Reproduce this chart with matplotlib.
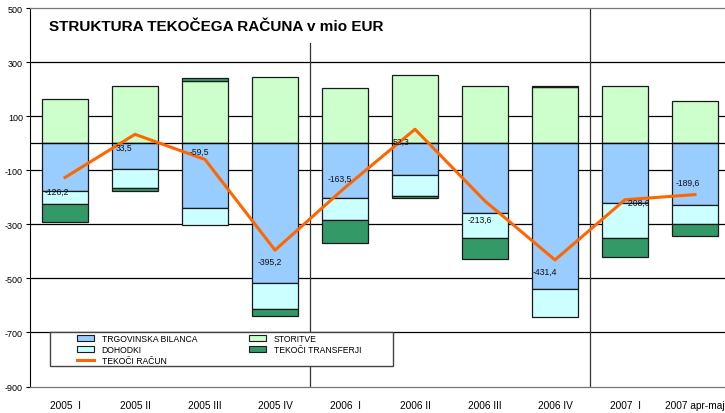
import numpy as np
import matplotlib
matplotlib.use("Agg")
from matplotlib import pyplot as plt
from matplotlib.patches import Patch, Rectangle
from matplotlib.lines import Line2D

plt.rcParams["font.family"] = ["Liberation Sans", "DejaVu Sans"]
plt.rcParams["axes.unicode_minus"] = False

categories = ["2005  I", "2005 II", "2005 III", "2005 IV", "2006  I",
              "2006 II", "2006 III", "2006 IV", "2007  I", "2007 apr-maj"]
trade = [-175, -95, -240, -518, -204, -116, -258, -540, -221, -227]
services = [164, 211, 232, 244, 205, 253, 213, 210, 212, 155]
income = [-50, -71, -62, -96, -79, -80, -92, -104, -128, -72]
transfers = [-65.2, -11.5, 10.5, -25.2, -85.5, -4.7, -76.6, 2.6, -71.6, -45.6]
current = [-126.2, 33.5, -59.5, -395.2, -163.5, 52.3, -213.6, -431.4, -208.6, -189.6]

# label offsets in points (dx, dy) relative to the line points
label_offsets = [(-6, -10), (-8, -9), (-4, 6), (-4, -8), (-4, 7),
                 (-10, -9), (-4, -13), (-7, -8), (9, -2), (-5, 9)]

c_trade = "#99CCFF"
c_income = "#CCFFFF"
c_services = "#CCFFCC"
c_transfers = "#339966"
c_line = "#FF6600"

x = np.arange(len(categories))
trade = np.array(trade, dtype=float)
services = np.array(services, dtype=float)
income = np.array(income, dtype=float)
transfers = np.array(transfers, dtype=float)

fig = plt.figure(figsize=(7.25, 4.14), dpi=100)
ax = fig.add_axes([30 / 725, 26.5 / 414, 700 / 725, (387.5 - 9.3) / 414])


def ax_xy(px, py):
    # pixel position in the picture -> axes fraction
    return (px - 30) / 700, 1 - (py - 9.3) / 378


w = 0.667
ec = "#1a1a1a"
lw = 0.9
ax.bar(x, services, w, color=c_services, edgecolor=ec, linewidth=lw, zorder=3)
ax.bar(x, trade, w, color=c_trade, edgecolor=ec, linewidth=lw, zorder=3)
ax.bar(x, income, w, bottom=trade, color=c_income, edgecolor=ec, linewidth=lw, zorder=3)
tr_bottom = np.where(transfers < 0, trade + income, services)
ax.bar(x, transfers, w, bottom=tr_bottom, color=c_transfers, edgecolor=ec,
       linewidth=lw, zorder=3)

ax.plot(x, current, color=c_line, linewidth=2.2, zorder=5)
for xi, v, (dx, dy) in zip(x, current, label_offsets):
    ax.annotate(f"{v:.1f}".replace(".", ","), (xi, v), xytext=(dx, dy),
                textcoords="offset points", ha="center", va="center",
                fontsize=6.2, color="#111111", zorder=6)

ax.set_xlim(-0.5, len(categories) - 0.5)
ax.set_ylim(-900, 500)
ax.set_yticks(np.arange(-900, 501, 200))
ax.set_xticks(x)
ax.set_xticklabels(categories, fontsize=7.3)
ax.tick_params(axis="y", labelsize=6.5, length=3, width=0.8, pad=2)
ax.tick_params(axis="x", length=0, pad=10)

for yv in np.arange(-700, 500, 200):
    ax.axhline(yv, color="black", linewidth=0.9, zorder=1)
ax.axhline(0, color="black", linewidth=0.9, zorder=4)
for xv in (3.5, 7.5):
    ax.axvline(xv, color="#333333", linewidth=0.9, zorder=2)

for s in ("top", "bottom", "right"):
    ax.spines[s].set_color("#777777")
    ax.spines[s].set_linewidth(0.9)
ax.spines["left"].set_color("black")
for s in ax.spines.values():
    s.set_zorder(10)

ax.text(*ax_xy(49, 27), "STRUKTURA TEKOČEGA RAČUNA v mio EUR",
        transform=ax.transAxes, fontsize=11, fontweight="bold", va="center",
        ha="left", zorder=7,
        bbox=dict(facecolor="white", edgecolor="none", pad=7))

# legend frame
x0, y1 = ax_xy(50, 333.3)
x1, y0 = ax_xy(393.3, 366.7)
ax.add_patch(Rectangle((x0, y0), x1 - x0, y1 - y0, transform=ax.transAxes,
                       facecolor="white", edgecolor="#444444", linewidth=1.0,
                       zorder=7.5, clip_on=False))

handles = [
    Patch(facecolor=c_trade, edgecolor=ec, linewidth=0.8),
    Patch(facecolor=c_income, edgecolor=ec, linewidth=0.8),
    Line2D([], [], color=c_line, linewidth=2.2),
    Patch(facecolor=c_services, edgecolor=ec, linewidth=0.8),
    Patch(facecolor=c_transfers, edgecolor=ec, linewidth=0.8),
]
labels = ["TRGOVINSKA BILANCA", "DOHODKI", "TEKOČI RAČUN", "STORITVE",
          "TEKOČI TRANSFERJI"]
leg = ax.legend(handles, labels, ncol=2, loc="upper left",
                bbox_to_anchor=ax_xy(76.7, 334.5),
                fontsize=6.2, frameon=False, borderpad=0, labelspacing=0.25,
                handlelength=2.0, handleheight=0.75, handletextpad=0.9,
                columnspacing=6.0, borderaxespad=0)
leg.set_zorder(8)

fig.savefig("out.png", dpi=100)
